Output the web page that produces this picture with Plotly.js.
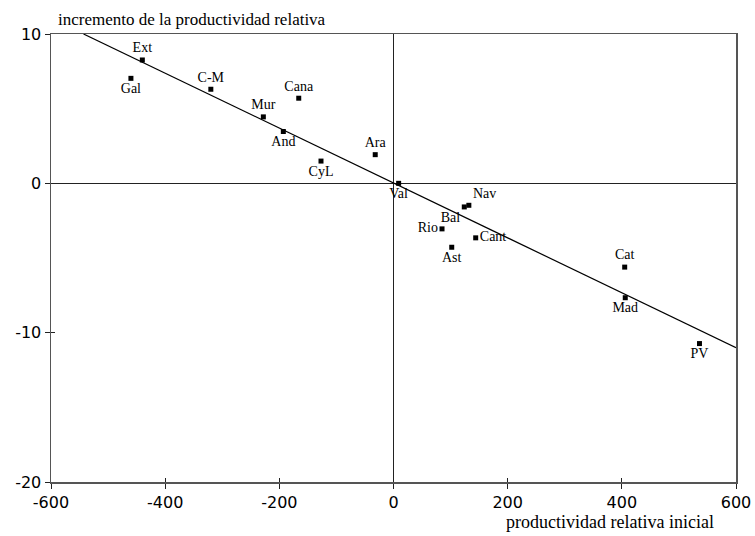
<!DOCTYPE html>
<html>
<head>
<meta charset="utf-8">
<script src="https://cdn.plot.ly/plotly-3.0.1.min.js"></script>
<style>html,body{margin:0;padding:0;background:#fff}#chart{width:755px;height:536px}</style>
</head>
<body>
<div id="chart"></div>
<script>
// Regions and values
const regions = ["Ext","Gal","C-M","Cana","Mur","And","CyL","Ara","Val","Nav","Bal","Rio","Cant","Ast","Cat","Mad","PV"];
const prodInicial = [-440, -460, -320, -166, -228, -193, -127, -32, 9, 132, 124, 85, 144, 102, 405, 406, 536];
const incremento = [8.26, 7.03, 6.3, 5.7, 4.45, 3.47, 1.49, 1.92, 0.0, -1.47, -1.58, -3.05, -3.65, -4.28, -5.61, -7.66, -10.73];
const labelPos = ["top center","bottom center","top center","top center","top center","bottom center","bottom center","top center","bottom center","top right","bottom left","middle left","middle right","bottom center","top center","bottom center","bottom center"];
// Fitted line endpoints
const lineX = [-543, 600];
const lineY = [10, -11.0];
const xTicks = [-600, -400, -200, 0, 200, 400, 600];
const yTicks = [-20, -10, 0, 10];

const serif = "Liberation Serif, Times New Roman, serif";
const sans = "DejaVu Sans, Verdana, sans-serif";

const traces = [
  {x: lineX, y: lineY, mode: "lines", line: {color: "#000", width: 1.2}, hoverinfo: "skip", showlegend: false},
  {x: prodInicial, y: incremento, mode: "markers+text", text: regions, textposition: labelPos,
   textfont: {family: serif, size: 14, color: "#000"},
   marker: {symbol: "square", size: 5, color: "#000"}, showlegend: false, cliponaxis: false}
];

const axisCommon = {
  showgrid: false, zeroline: true, zerolinecolor: "#222", zerolinewidth: 1.2,
  showline: true, linecolor: "#555", linewidth: 1.5, mirror: true,
  ticks: "outside", ticklen: 5, tickcolor: "#222", tickwidth: 1,
  tickfont: {family: sans, size: 16, color: "#000"}
};

const layout = {
  width: 755, height: 536,
  margin: {l: 51, r: 19, t: 34, b: 54},
  paper_bgcolor: "#fff", plot_bgcolor: "#fff",
  xaxis: Object.assign({}, axisCommon, {range: [-600, 600], tickvals: xTicks, ticktext: xTicks.map(String)}),
  yaxis: Object.assign({}, axisCommon, {range: [-20, 10], tickvals: yTicks, ticktext: yTicks.map(String)}),
  xaxis2: {overlaying: "x", range: [-600, 600], tickvals: xTicks, showticklabels: false, ticks: "inside", ticklen: 4, tickcolor: "#222", showgrid: false, zeroline: false, showline: false, side: "bottom"},
  yaxis2: {overlaying: "y", range: [-20, 10], tickvals: yTicks, showticklabels: false, ticks: "inside", ticklen: 4, tickcolor: "#222", showgrid: false, zeroline: false, showline: false, side: "left"},
  annotations: [
    {text: "incremento de la productividad relativa", xref: "paper", yref: "paper", x: 0.008, y: 1, yshift: 15,
     xanchor: "left", yanchor: "middle", showarrow: false, font: {family: serif, size: 17, color: "#000"}},
    {text: "productividad relativa inicial", xref: "paper", yref: "paper", x: 1, y: 0, xshift: -20, yshift: -40,
     xanchor: "right", yanchor: "middle", showarrow: false, font: {family: serif, size: 18, color: "#000"}}
  ]
};

traces.push({x: [0], y: [0], xaxis: "x2", yaxis: "y2", mode: "markers", marker: {opacity: 0}, hoverinfo: "skip", showlegend: false});

Plotly.newPlot("chart", traces, layout, {staticPlot: true, displayModeBar: false});
</script>
</body>
</html>
